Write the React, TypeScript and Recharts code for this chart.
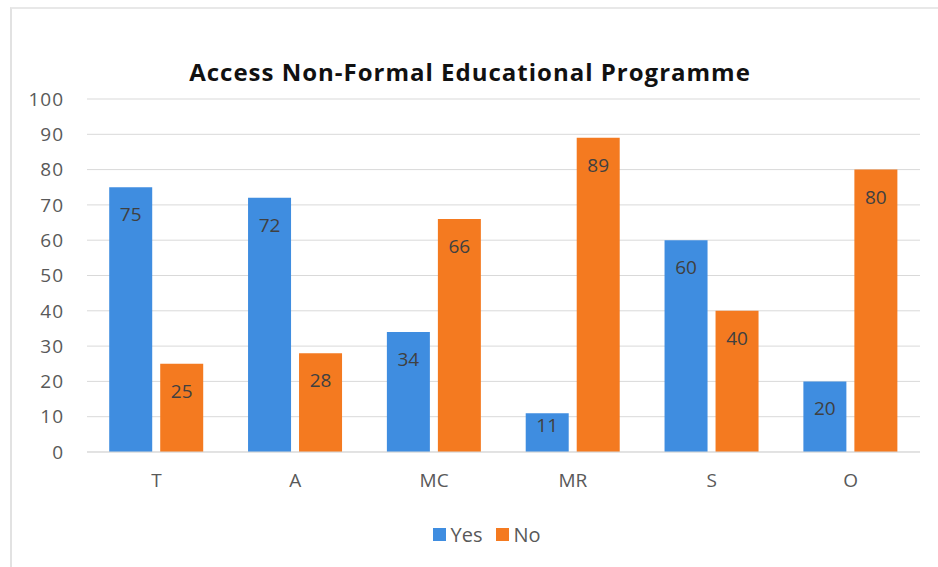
import { BarChart, Bar, XAxis, YAxis, CartesianGrid, LabelList } from "recharts";

const categories = ["T", "A", "MC", "MR", "S", "O"];
const yesValues = [75, 72, 34, 11, 60, 20];
const noValues = [25, 28, 66, 89, 40, 80];
const yTicks = [0, 10, 20, 30, 40, 50, 60, 70, 80, 90, 100];

const data = categories.map((name, i) => ({ name, Yes: yesValues[i], No: noValues[i] }));

const FONT = "'Open Sans', 'Liberation Sans', sans-serif";
const BLUE = "#3f8de0";
const ORANGE = "#f47a20";

// Excel-style "inside end" label: near the top, closer when the bar is short
const renderLabel = (props: any) => {
  const { x, y, width, height, value } = props;
  const dy = height > 60 ? 27 : height * 0.3;
  return (
    <text
      x={x + width / 2}
      y={y + dy}
      textAnchor="middle"
      dominantBaseline="central"
      fill="#404040"
      fontSize={19}
      fontFamily={FONT}
    >
      {value}
    </text>
  );
};

export default function App() {
  return (
    <div
      style={{
        position: "absolute",
        left: 0,
        top: 0,
        width: 938,
        height: 567,
        background: "#fff",
        fontFamily: FONT,
      }}
    >
      <div
        style={{
          position: "absolute",
          left: 10,
          top: 7,
          right: 0,
          bottom: 0,
          borderLeft: "2px solid #e2e2e2",
          borderTop: "2px solid #e8e8e8",
        }}
      />
      <div
        style={{
          position: "absolute",
          left: 0,
          width: 940,
          top: 55,
          textAlign: "center",
          fontSize: 24,
          letterSpacing: 1,
          fontWeight: 700,
          color: "#111",
        }}
      >
        Access Non-Formal Educational Programme
      </div>
      <div style={{ position: "absolute", left: 0, top: 0 }}>
        <BarChart
          width={938}
          height={567}
          data={data}
          margin={{ top: 99, right: 18, bottom: 75, left: 0 }}
          barCategoryGap="16%"
          barGap={8}
        >
          <CartesianGrid vertical={false} stroke="#d9d9d9" />
          <XAxis
            dataKey="name"
            axisLine={{ stroke: "#d9d9d9" }}
            tickLine={false}
            tickMargin={16}
            height={40}
            tick={{ fill: "#595959", fontSize: 19, fontFamily: FONT }}
          />
          <YAxis
            domain={[0, 100]}
            ticks={yTicks}
            axisLine={false}
            tickLine={false}
            width={87}
            tickMargin={17}
            interval={0}
            tick={{ fill: "#595959", fontSize: 19, fontFamily: FONT, letterSpacing: 1 }}
          />
          <Bar dataKey="Yes" fill={BLUE} isAnimationActive={false}>
            <LabelList dataKey="Yes" content={renderLabel} />
          </Bar>
          <Bar dataKey="No" fill={ORANGE} isAnimationActive={false}>
            <LabelList dataKey="No" content={renderLabel} />
          </Bar>
        </BarChart>
      </div>
      <div
        style={{
          position: "absolute",
          left: 0,
          width: 974,
          top: 521,
          display: "flex",
          justifyContent: "center",
          alignItems: "center",
          fontSize: 20,
          color: "#595959",
        }}
      >
        <span style={{ width: 13, height: 13, background: BLUE, marginRight: 4 }} />
        <span style={{ marginRight: 14 }}>Yes</span>
        <span style={{ width: 13, height: 13, background: ORANGE, marginRight: 4 }} />
        <span>No</span>
      </div>
    </div>
  );
}
